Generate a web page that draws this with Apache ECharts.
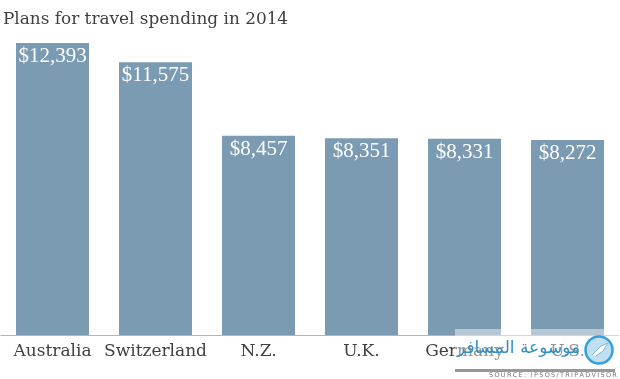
<!DOCTYPE html>
<html><head><meta charset="utf-8">
<style>html,body{margin:0;padding:0;background:#fff}#c{width:620px;height:379px}</style>
<script src="https://cdn.jsdelivr.net/npm/echarts@6/dist/echarts.min.js"></script>
</head><body><div id="c"></div>
<script>
const categories = ['Australia','Switzerland','N.Z.','U.K.','Germany','U.S.'];
const spending = [12393,11575,8457,8351,8331,8272];
const titleText = 'Plans for travel spending in 2014';
const sourceText = 'SOURCE: IPSOS/TRIPADVISOR';
const watermarkText = 'موسوعة المسافر';
const serif = '"DejaVu Serif","Liberation Serif",serif';
const chart = echarts.init(document.getElementById('c'), null, {renderer:'canvas'});
chart.setOption({
  animation:false,
  backgroundColor:'#fff',
  title:{text:titleText,left:3,top:11,padding:0,textStyle:{fontFamily:serif,fontSize:16.9,fontWeight:'normal',color:'#3f3f3f'}},
  grid:{left:1,right:1,top:43,bottom:44},
  xAxis:{type:'category',data:categories,
    axisLine:{lineStyle:{color:'#b5b5b5',width:1}},axisTick:{show:false},
    axisLabel:{fontFamily:serif,fontSize:17,color:'#3f3f3f',margin:8,interval:0}},
  yAxis:{type:'value',min:0,max:12393,show:false,splitLine:{show:false}},
  series:[{type:'bar',data:spending,barWidth:73,
    itemStyle:{color:'#7b9bb3'},
    label:{show:true,position:'insideTop',distance:3,color:'#fff',fontFamily:'"Liberation Serif",serif',fontSize:21,
      formatter:p=>'$'+p.value.toLocaleString('en-US')}}],
  graphic:[
    {type:'rect',shape:{x:455,y:329,width:165,height:38},z:10,style:{fill:'rgba(255,255,255,0.45)'}},
    {type:'text',x:457,y:340,z:11,style:{text:watermarkText,fontFamily:'"DejaVu Sans"',fontSize:17,fill:'#2f8fc0'}},
    {type:'circle',shape:{cx:599,cy:350,r:13.5},z:11,style:{fill:'#bfe0f2',stroke:'#3a9fd6',lineWidth:2.5}},
    {type:'polyline',shape:{points:[[592,355],[601,346],[608,343],[603,351],[596,356]]},z:12,style:{fill:'#fff',stroke:'#7fb9dc',lineWidth:1}},
    {type:'rect',shape:{x:455,y:369,width:160,height:3},z:11,style:{fill:'#999'}},
    {type:'text',x:489,y:372,z:11,style:{text:sourceText.split('').join('\u2009'),fontFamily:'"DejaVu Sans"',fontSize:6.5,fill:'#777'}}
  ]
});
</script></body></html>
